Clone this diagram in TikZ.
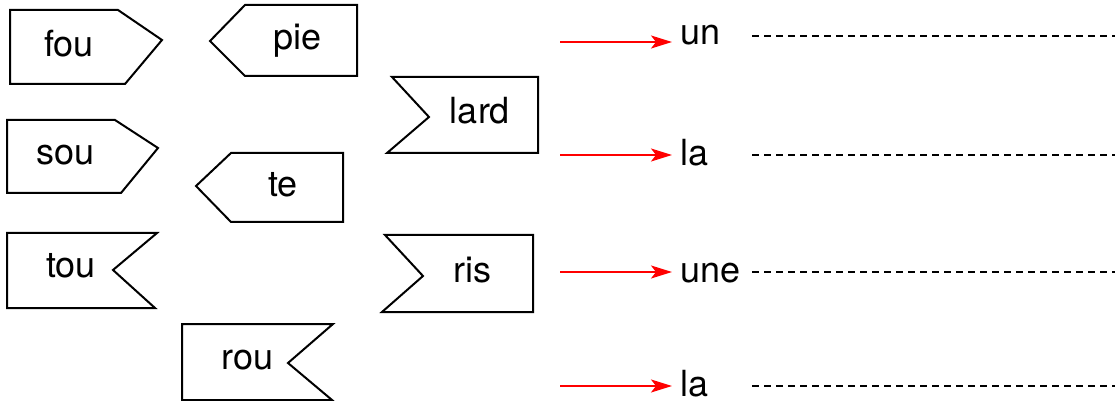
\documentclass[tikz,border=0pt]{standalone}
\usepackage{fontspec}
\setmainfont{TeX Gyre Heros}
\usetikzlibrary{arrows.meta,calc}
\colorlet{colorCue}{red}
\tikzset{
   every path/.style={>=stealth},
   tag/.style={draw=black, line width=1pt, line join=miter},
   word/.style={inner sep=0pt, font=\fontsize{18}{20}\selectfont, anchor=base},
   art/.style={inner sep=0pt, font=\fontsize{18}{20}\selectfont, anchor=base west},
   cue/.style={-{Stealth[length=10.5pt,width=6.5pt,inset=2.5pt]}, draw=colorCue, line width=1pt, shorten >=4pt},
   blank/.style={draw=black, line width=1.15pt, dash pattern=on 3.5pt off 2.5pt},
}

\begin{document}
\begin{tikzpicture}[x=0.5pt, y=-0.5pt]
\useasboundingbox (0,0) rectangle (1115,401);

% ------------------------------------------------------------
% Tags pointing right: fou, sou
% ------------------------------------------------------------
\draw[tag] (10,10) -- (118,10) -- (162,40) -- (125,84) -- (10,84) -- cycle;
\node[word] (fou) at (69,57) {fou};

\draw[tag] (7,120) -- (115,120) -- (158,148) -- (121,193) -- (7,193) -- cycle;
\node[word] (sou) at (65.5,165) {sou};

% ------------------------------------------------------------
% Tags pointing left: pie, te
% ------------------------------------------------------------
\draw[tag] (210,41) -- (245,5) -- (357,5) -- (357,76) -- (245,76) -- cycle;
\node[word] (pie) at (297.5,50) {pie};

\draw[tag] (196,186) -- (231,153) -- (343,153) -- (343,222) -- (231,222) -- cycle;
\node[word] (te) at (283,197) {te};

% ------------------------------------------------------------
% Tags notched right: tou, rou
% ------------------------------------------------------------
\draw[tag] (7,233) -- (157,233) -- (113,270) -- (155,308) -- (7,308) -- cycle;
\node[word] (tou) at (71,278) {tou};

\draw[tag] (182,324) -- (333,324) -- (288,363) -- (332,400) -- (182,400) -- cycle;
\node[word] (rou) at (247.5,369) {rou};

% ------------------------------------------------------------
% Tags notched left: lard, ris
% ------------------------------------------------------------
\draw[tag] (392,77) -- (538,77) -- (538,153) -- (387,153) -- (429,117) -- cycle;
\node[word] (lard) at (480,124) {lard};

\draw[tag] (385,235) -- (533,235) -- (533,312) -- (382,312) -- (423,276) -- cycle;
\node[word] (ris) at (472.5,282) {ris};

% ------------------------------------------------------------
% Articles with their cue arrows and blanks
% ------------------------------------------------------------
\node[art] (un)  at (680,45)  {un};
\node[art] (la1) at (680,166) {la};
\node[art] (une) at (680,282) {une};
\node[art] (la2) at (680,396) {la};

\coordinate (c1) at (560,42);
\coordinate (c2) at (560,155);
\coordinate (c3) at (560,272);
\coordinate (c4) at (560,386);

\draw[cue] (c1) -- (c1 -| un.west);
\draw[cue] (c2) -- (c2 -| la1.west);
\draw[cue] (c3) -- (c3 -| une.west);
\draw[cue] (c4) -- (c4 -| la2.west);

\coordinate (d1) at (752,36);
\coordinate (d2) at (752,155);
\coordinate (d3) at (752,272);
\coordinate (d4) at (752,386);
\coordinate (e1) at (1115,36);
\coordinate (e2) at (1115,155);
\coordinate (e3) at (1115,272);
\coordinate (e4) at (1115,386);

\draw[blank] (d1) -- (e1);
\draw[blank] (d2) -- (e2);
\draw[blank] (d3) -- (e3);
\draw[blank] (d4) -- (e4);
\end{tikzpicture}
\end{document}
